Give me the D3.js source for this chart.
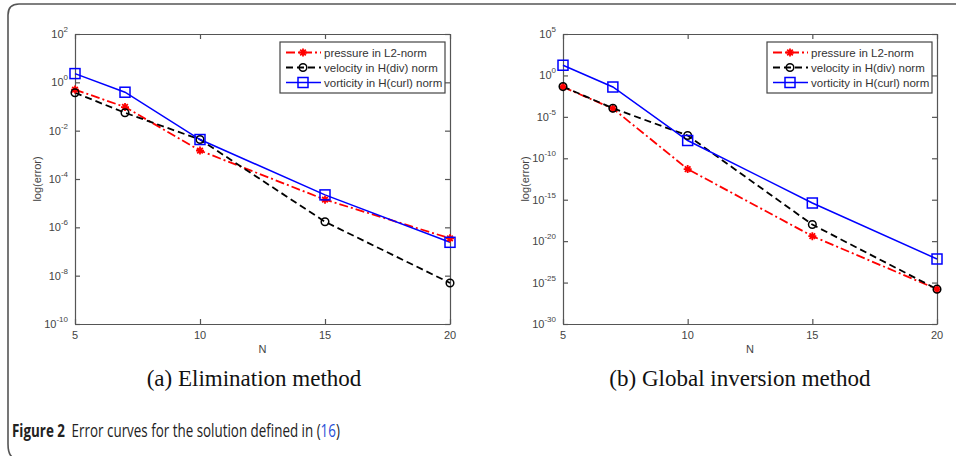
<!DOCTYPE html>
<html>
<head>
<meta charset="utf-8">
<script src="https://cdn.jsdelivr.net/npm/d3@7"></script>
<style>
  body { margin: 0; background: #fff; }
  svg { display: block; }
</style>
</head>
<body>
<script>
var width = 956,
    height = 456;

// data
var nValues = [5, 7, 10, 15, 20];

var elimPressure = [0.5, 0.095, 1.5e-3, 1.4e-5, 3.5e-7],
    elimVelocity = [0.37, 0.055, 4.3e-3, 1.7e-6, 5e-9],
    elimVorticity = [2.3, 0.39, 4.3e-3, 2.2e-5, 2.4e-7];

var globPressure = [0.04, 1e-4, 5e-12, 4e-20, 1.6e-26],
    globVelocity = [0.045, 1.1e-4, 5.6e-8, 1e-18, 1.6e-26],
    globVorticity = [17, 0.04, 1.4e-8, 4e-16, 7e-23];

var xTicks = [5, 10, 15, 20],
    elimExponents = [2, 0, -2, -4, -6, -8, -10],
    globExponents = [5, 0, -5, -10, -15, -20, -25, -30];

var legendLabels = ["pressure in L2-norm", "velocity in H(div) norm", "vorticity in H(curl) norm"],
    subCaptions = ["(a) Elimination method", "(b) Global inversion method"];
// end data

var svg = d3.select("body").append("svg")
    .attr("width", width)
    .attr("height", height);

svg.append("rect")
    .attr("width", width)
    .attr("height", height)
    .attr("fill", "#fff");

// outer frame
svg.append("path")
    .attr("d", "M956,4 H19 Q8,4 8,15 V444 Q8,456 14,458")
    .attr("fill", "none")
    .attr("stroke", "#555")
    .attr("stroke-width", 1.6);

var seriesStyle = [
    { color: "#ff0000", dash: "9,3,2,3", width: 1.8, marker: "star" },
    { color: "#000000", dash: "7,4", width: 1.8, marker: "circle" },
    { color: "#0000ff", dash: null, width: 1.5, marker: "square" }
];

function drawMarker(g, type, x, y, color) {
    if (type === "star") {
        var s = 4;
        g.append("path")
            .attr("d", "M" + (x - s) + "," + y + "H" + (x + s) +
                "M" + x + "," + (y - s) + "V" + (y + s) +
                "M" + (x - s * 0.7) + "," + (y - s * 0.7) + "L" + (x + s * 0.7) + "," + (y + s * 0.7) +
                "M" + (x - s * 0.7) + "," + (y + s * 0.7) + "L" + (x + s * 0.7) + "," + (y - s * 0.7))
            .attr("stroke", color)
            .attr("stroke-width", 1.8);
    } else if (type === "circle") {
        g.append("circle")
            .attr("cx", x).attr("cy", y).attr("r", 3.8)
            .attr("fill", "none")
            .attr("stroke", color)
            .attr("stroke-width", 1.5);
    } else {
        g.append("rect")
            .attr("x", x - 5).attr("y", y - 5)
            .attr("width", 10).attr("height", 10)
            .attr("fill", "none")
            .attr("stroke", color)
            .attr("stroke-width", 1.5);
    }
}

function drawPanel(opts) {
    var g = svg.append("g");

    var xScale = d3.scaleLinear().domain([5, 20]).range([opts.left, opts.right]),
        yScale = d3.scaleLog()
            .domain([Math.pow(10, d3.min(opts.exponents)), Math.pow(10, d3.max(opts.exponents))])
            .range([opts.bottom, opts.top]);

    // axes box with inward ticks on all sides
    var xAxisBottom = d3.axisBottom(xScale).tickValues(xTicks).tickSizeInner(-5).tickSizeOuter(0).tickFormat(""),
        xAxisTop = d3.axisTop(xScale).tickValues(xTicks).tickSizeInner(-5).tickSizeOuter(0).tickFormat(""),
        yValues = opts.exponents.map(function(e) { return Math.pow(10, e); }),
        yAxisLeft = d3.axisLeft(yScale).tickValues(yValues).tickSizeInner(-5).tickSizeOuter(0).tickFormat(""),
        yAxisRight = d3.axisRight(yScale).tickValues(yValues).tickSizeInner(-5).tickSizeOuter(0).tickFormat("");

    var axes = [
        [xAxisBottom, "translate(0," + opts.bottom + ")"],
        [xAxisTop, "translate(0," + opts.top + ")"],
        [yAxisLeft, "translate(" + opts.left + ",0)"],
        [yAxisRight, "translate(" + opts.right + ",0)"]
    ];
    axes.forEach(function(a) {
        var ag = g.append("g").attr("transform", a[1]).call(a[0]);
        ag.selectAll("path, line").attr("stroke", "#555").attr("stroke-width", 1.2);
    });

    // x tick labels
    g.selectAll(".xlabel")
        .data(xTicks)
        .enter().append("text")
        .attr("x", function(d) { return xScale(d); })
        .attr("y", opts.bottom + 15)
        .attr("text-anchor", "middle")
        .attr("font-family", "Liberation Sans, Arial, sans-serif")
        .attr("font-size", 11)
        .attr("fill", "#444")
        .text(function(d) { return d; });

    // y tick labels, 10 with superscript
    opts.exponents.forEach(function(e) {
        var t = g.append("text")
            .attr("x", opts.left - 7)
            .attr("y", yScale(Math.pow(10, e)) + 4)
            .attr("text-anchor", "end")
            .attr("font-family", "Liberation Sans, Arial, sans-serif")
            .attr("font-size", 11)
            .attr("fill", "#444");
        t.append("tspan").text("10");
        t.append("tspan")
            .attr("dy", -6)
            .attr("font-size", 8)
            .text(e);
    });

    // axis titles
    g.append("text")
        .attr("x", (opts.left + opts.right) / 2)
        .attr("y", opts.bottom + 29)
        .attr("text-anchor", "middle")
        .attr("font-family", "Liberation Sans, Arial, sans-serif")
        .attr("font-size", 11)
        .attr("fill", "#444")
        .text("N");

    g.append("text")
        .attr("transform", "translate(" + (opts.left - 34) + "," + ((opts.top + opts.bottom) / 2) + ") rotate(-90)")
        .attr("text-anchor", "middle")
        .attr("font-family", "Liberation Sans, Arial, sans-serif")
        .attr("font-size", 11)
        .attr("fill", "#444")
        .text("log(error)");

    // series
    var line = d3.line()
        .x(function(d, i) { return xScale(nValues[i]); })
        .y(function(d) { return yScale(d); });

    opts.series.forEach(function(values, k) {
        var st = seriesStyle[k];
        g.append("path")
            .attr("d", line(values))
            .attr("fill", "none")
            .attr("stroke", st.color)
            .attr("stroke-width", st.width)
            .attr("stroke-dasharray", st.dash);
    });
    opts.series.forEach(function(values, k) {
        var st = seriesStyle[k];
        values.forEach(function(v, i) {
            drawMarker(g, st.marker, xScale(nValues[i]), yScale(v), st.color);
        });
    });

    // legend
    var lx = opts.legendX, ly = opts.top + 8;
    g.append("rect")
        .attr("x", lx).attr("y", ly)
        .attr("width", 165).attr("height", 51)
        .attr("fill", "#fff")
        .attr("stroke", "#444")
        .attr("stroke-width", 1.2);

    legendLabels.forEach(function(label, k) {
        var st = seriesStyle[k],
            ry = ly + 10.5 + k * 15;
        g.append("line")
            .attr("x1", lx + 6).attr("x2", lx + 41)
            .attr("y1", ry).attr("y2", ry)
            .attr("stroke", st.color)
            .attr("stroke-width", st.width)
            .attr("stroke-dasharray", st.dash);
        drawMarker(g, st.marker, lx + 23, ry, st.color);
        g.append("text")
            .attr("x", lx + 44)
            .attr("y", ry + 4)
            .attr("font-family", "Liberation Sans, Arial, sans-serif")
            .attr("font-size", 11.5)
            .attr("fill", "#333")
            .text(label);
    });
    // end legend

    svg.append("text")
        .attr("x", opts.captionX)
        .attr("y", 386)
        .attr("text-anchor", "middle")
        .attr("font-family", "Liberation Serif, Times New Roman, serif")
        .attr("font-size", 23)
        .attr("fill", "#111")
        .text(opts.caption);
}

drawPanel({
    left: 75, right: 450, top: 34, bottom: 324,
    exponents: elimExponents,
    series: [elimPressure, elimVelocity, elimVorticity],
    legendX: 280,
    caption: subCaptions[0],
    captionX: 254
});

drawPanel({
    left: 563, right: 937, top: 34, bottom: 324,
    exponents: globExponents,
    series: [globPressure, globVelocity, globVorticity],
    legendX: 767,
    caption: subCaptions[1],
    captionX: 740
});

// figure caption
var cap = svg.append("text")
    .attr("x", 0)
    .attr("y", 0)
    .attr("font-family", "Open Sans, sans-serif")
    .attr("font-size", 18)
    .attr("fill", "#222");
cap.append("tspan").attr("font-weight", "bold").text("Figure 2");
cap.append("tspan").attr("dx", 9).text("Error curves for the solution defined in (");
cap.append("tspan").attr("fill", "#2a4fd6").text("16");
cap.append("tspan").text(")");

var capWidth = cap.node().getComputedTextLength() + 9;
cap.attr("transform", "translate(12,437) scale(" + (328 / capWidth) + ",1)");
// end figure caption
</script>
</body>
</html>
